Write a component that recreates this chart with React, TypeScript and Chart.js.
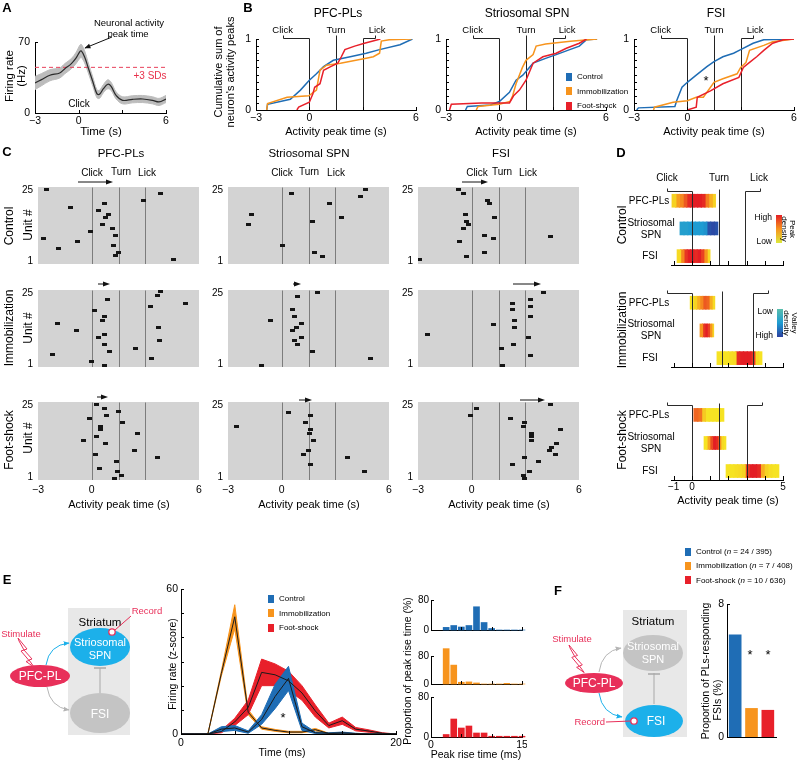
import React, { useEffect, useMemo, useRef } from 'react';
import { Chart, registerables } from 'chart.js';

Chart.register(...registerables);
const FONT = 'Arial, "Liberation Sans", Helvetica, sans-serif';
Chart.defaults.font.family = FONT;
Chart.defaults.color = '#000';

const BLUE = '#1f6db5';
const ORANGE = '#f7941d';
const RED = '#e8202a';
const PINK = '#e8305a';
const CYAN = '#1cb0ea';
const CGRAY = '#c6c6c6';

// ---------------- Panel A ----------------
const A_TIME = [-3, -2.55, -1.98, -1.3, -0.95, -0.5, -0.16, 0.07, 0.18, 0.41, 0.64, 0.98, 1.25, 1.43, 1.7, 2.0, 2.23, 2.57, 3.02, 3.7, 4.4, 5.07, 5.52, 6];
const A_MEAN = [29.6, 32.9, 37.2, 39.5, 43.7, 48.7, 54.6, 60.2, 61.2, 55.3, 45.4, 30.6, 19.1, 18.4, 24, 28.3, 26.3, 17.4, 12.5, 13.5, 13.8, 12.5, 10.9, 13.8];
const A_SEM = [6.5, 6, 5.5, 5, 5, 5, 5.5, 6.5, 6.5, 6, 5, 4.5, 4, 4, 4, 4.5, 4, 3.5, 3.5, 3.5, 3.5, 3.5, 3.5, 3.5];
const A_THRESHOLD = 45;

// ---------------- Panel B (cumulative sums) ----------------
const B1_CTRL = [[-2.4, 0], [-2.35, 0.08], [-1.07, 0.15], [-0.5, 0.28], [0, 0.42], [0.4, 0.51], [0.8, 0.61], [1.35, 0.7], [2.3, 0.75], [3.2, 0.8], [3.95, 0.85], [5.1, 0.92], [5.8, 1]];
const B1_IMM = [[-2.4, 0], [-2.35, 0.09], [-1.25, 0.18], [-0.03, 0.2], [0.4, 0.28], [0.6, 0.56], [0.97, 0.63], [1.75, 0.66], [3.2, 0.73], [3.6, 0.75], [3.95, 0.8], [4.05, 0.97], [4.5, 0.99], [5.75, 1]];
const B1_FS = [[-0.7, 0], [-0.6, 0.04], [0, 0.11], [0.2, 0.23], [0.3, 0.32], [0.6, 0.37], [0.8, 0.56], [1.2, 0.61], [1.6, 0.66], [1.8, 0.75], [2.0, 0.85], [2.55, 0.9], [3.1, 0.94], [4.0, 1]];
const B2_CTRL = [[-1.9, 0], [-1.8, 0.05], [-0.5, 0.07], [0, 0.12], [0.57, 0.25], [0.94, 0.42], [1.32, 0.49], [1.9, 0.66], [2.64, 0.73], [3.2, 0.78], [3.96, 0.85], [4.5, 0.9], [4.9, 0.99], [5.5, 1]];
const B2_IMM = [[-1.3, 0], [-1.2, 0.05], [0, 0.08], [0.6, 0.12], [0.75, 0.2], [0.94, 0.37], [1.3, 0.6], [1.5, 0.7], [1.9, 0.78], [2.07, 0.9], [2.6, 0.93], [4.0, 0.97], [5.5, 1]];
const B2_FS = [[-2.8, 0], [-2.7, 0.08], [-1, 0.1], [0.57, 0.1], [0.8, 0.2], [1.13, 0.28], [1.5, 0.42], [1.9, 0.66], [2.45, 0.75], [3.2, 0.8], [3.77, 0.87], [4.5, 0.94], [4.9, 1]];
const B3_CTRL = [[-2.85, 0], [-2.75, 0.03], [-0.7, 0.05], [-0.6, 0.13], [-0.3, 0.32], [0, 0.39], [0.5, 0.49], [1.1, 0.61], [1.5, 0.68], [2.0, 0.75], [2.6, 0.8], [3.0, 0.85], [3.7, 0.94], [4.3, 0.99], [6, 1]];
const B3_IMM = [[-1.9, 0], [-1.85, 0.04], [-0.8, 0.11], [0, 0.13], [0.5, 0.18], [0.9, 0.18], [1.5, 0.39], [2.0, 0.44], [2.8, 0.51], [3.0, 0.6], [3.3, 0.67], [3.5, 0.84], [4.3, 0.91], [4.8, 0.96], [6, 1]];
const B3_FS = [[0, 0], [0.5, 0.04], [0.56, 0.18], [1.3, 0.27], [2.0, 0.37], [2.9, 0.46], [3.15, 0.6], [3.5, 0.67], [3.9, 0.75], [4.3, 0.84], [4.8, 0.94], [5.4, 0.99], [6, 1]];
const B_YTICKS = [0, 0.1, 0.2, 0.3, 0.4, 0.5, 0.6, 0.7, 0.8, 0.9, 1];

// ---------------- Panel C (peak times x unit) ----------------
const C1_CTRL = [[-2.5, 25.1], [3.87, 23.8], [2.89, 21.45], [0.72, 20.4], [-1.18, 19.2], [0.39, 18], [0.93, 16.8], [0.76, 15.6], [0.59, 13.2], [1.17, 12.1], [-0.09, 11], [1.35, 9.75], [-2.68, 8.7], [-0.81, 7.5], [1.24, 6.3], [-1.85, 5.1], [1.5, 3.9], [1.35, 2.8], [4.57, 1.6]];
const C1_IMM = [[3.83, 25.35], [3.7, 24.05], [0.91, 22.85], [5.26, 21.55], [3.3, 20.4], [0.17, 19.2], [0.69, 16.9], [0.63, 15.7], [-1.93, 14.6], [3.74, 13.4], [-0.85, 12.35], [0.7, 11.05], [0.37, 10], [3.81, 8.8], [0.69, 7.6], [2.44, 6.4], [1.02, 5.2], [-2.2, 4.1], [3.33, 2.9], [-0.02, 1.7], [0.69, 0.55]];
const C1_FS = [[0.26, 25.25], [0.69, 23.85], [1.5, 22.75], [0.81, 21.45], [-0.11, 20.4], [1.72, 19.2], [0.52, 18], [0.48, 16.8], [2.57, 15.6], [0.26, 14.4], [-0.44, 13.3], [0.78, 12.1], [2.42, 9.75], [0.2, 8.65], [3.69, 7.45], [1.37, 6.25], [0.46, 4], [1.46, 2.7], [1.67, 1.6], [1.28, 0.4]];
const C2_CTRL = [[4.67, 25.1], [0.54, 23.8], [4.43, 22.65], [2.69, 20.4], [-1.67, 16.8], [3.37, 15.6], [1.7, 14.4], [-1.87, 13.2], [0.04, 6.3], [1.85, 3.9], [2.3, 2.7]];
const C2_IMM = [[1.98, 25.1], [0.87, 23.95], [0.59, 19.3], [0.7, 17], [-0.65, 15.7], [1.11, 14.6], [0.83, 13.4], [0.63, 12.35], [1.13, 9.85], [0.69, 8.8], [0.87, 7.6], [1.73, 5.2], [4.97, 2.85], [-1.13, 0.5]];
const C2_FS = [[0.37, 22.5], [1.63, 21.35], [1.34, 19.05], [-2.53, 18], [1.63, 16.7], [1.57, 15.5], [1.8, 13.25], [1.51, 9.75], [1.23, 8.65], [3.68, 7.45], [1.63, 5.1], [4.65, 2.8]];
const C3_CTRL = [[-0.74, 25.1], [-0.43, 23.8], [0.87, 21.45], [1.02, 20.4], [-0.37, 16.8], [1.29, 15.6], [-0.27, 14.4], [-0.18, 13.2], [-0.43, 12.1], [0.7, 9.75], [4.4, 9.2], [1.2, 8.7], [-0.67, 7.5], [0.7, 3.9], [-0.3, 2.7], [-2.93, 1.6]];
const C3_IMM = [[4.04, 25.1], [3.3, 22.65], [2.3, 21.55], [3.3, 20.5], [2.3, 19.3], [3.3, 16.9], [2.4, 15.7], [1.2, 14.5], [2.4, 13.4], [-2.45, 11.05], [3.2, 9.85], [2.35, 7.6], [1.65, 6.4], [3.3, 4], [1.75, 0.45]];
const C3_FS = [[4.41, 25.1], [0.29, 23.8], [-0.06, 21.45], [2.18, 20.4], [2.97, 19.2], [2.89, 18], [4.98, 16.8], [3.37, 15.6], [3.37, 14.6], [3.37, 13.3], [4.75, 12.1], [4.46, 10.8], [4.37, 9.75], [4.69, 8.65], [2.97, 7.45], [3.72, 6.25], [2.28, 5.1], [3.26, 2.7], [2.91, 1.5], [2.97, 0.4]];
const EVENT_TIMES = [0, 1.5, 3.0];

// ---------------- Panel D (density bars) ----------------
const D_CTRL_PFC_SPAN = [-1.1, 1.3];
const D_CTRL_PFC = [0.15, 0.45, 0.55, 0.75, 0.95, 1, 1, 1, 0.95, 0.6, 0.35, 0.15];
const D_CTRL_SPN_SPAN = [-0.66, 1.43];
const D_CTRL_SPN = [0.45, 0.45, 0.5, 0.5, 0.5, 0.5, 0.55, 0.9, 0.95, 0.9];
const D_CTRL_FSI_SPAN = [-0.82, 1.0];
const D_CTRL_FSI = [0.1, 0.55, 0.9, 1, 1, 0.95, 1, 0.85, 0.5, 0.1];
const D_IMM_PFC_SPAN = [-0.1, 1.26];
const D_IMM_PFC = [0.05, 0.15, 0.35, 0.55, 0.75, 0.7, 0.35, 0.1];
const D_IMM_SPN_SPAN = [0.44, 1.2];
const D_IMM_SPN = [0.5, 0.9, 1, 0.85, 0.5, 0.15];
const D_IMM_FSI_SPAN = [1.37, 3.85];
const D_IMM_FSI = [0.05, 0.05, 0.05, 0.08, 0.1, 0.95, 1, 1, 1, 0.9, 0.1, 0.05];
const D_FS_PFC_SPAN = [0.1, 1.76];
const D_FS_PFC = [0.7, 0.65, 0.2, 0.05, 0.05, 0.05, 0.05, 0.05];
const D_FS_SPN_SPAN = [0.66, 1.87];
const D_FS_SPN = [0.05, 0.4, 0.8, 1, 0.95, 0.5, 0.1, 0.05];
const D_FS_FSI_SPAN = [1.87, 4.78];
const D_FS_FSI = [0.05, 0.05, 0.08, 0.1, 0.15, 0.85, 1, 1, 0.95, 0.35, 0.15, 0.08, 0.05, 0.05];
const D_CTRL_EVENTS = [0, 1.48, 2.91];
const D_IMM_EVENTS = [0, 1.67, 3.37];
const D_FS_EVENTS = [0, 1.48, 3.0];
const D_LICK_BRACKET_END = [3.74, 4.2, 3.86];

// ---------------- Panel E ----------------
const E_TIME = [0, 1.25, 2.5, 3.75, 5, 6.25, 7.5, 8.75, 10, 11.25, 12.5, 13.75, 15, 16.25, 17.5, 18.75, 20];
const E_CTRL_MEAN = [0, 0, 0, 2, 2.5, 0.8, 6, 15.5, 23, 3, 0.5, 0.3, 0.5, 0.2, 0, 0, 0];
const E_CTRL_SEM = [0, 0, 0, 1, 1, 0.5, 2, 5, 5, 1.5, 0.3, 0.2, 0.3, 0.1, 0, 0, 0];
const E_IMM_MEAN = [0, 0, 0, 25, 48.5, 9, 2.5, 1.5, 0.8, 0.8, 1.8, 0.2, 0, 0, 0, 0, 0];
const E_IMM_SEM = [0, 0, 0, 1, 5, 1, 0.5, 0.4, 0.3, 0.3, 0.5, 0.1, 0, 0, 0, 0, 0];
const E_FS_MEAN = [0, 0, 0, 1, 5, 11, 25.5, 24.5, 22, 17, 9.5, 3.5, 5.5, 2, 1.2, 0.3, 0];
const E_FS_SEM = [0, 0, 0, 0.5, 1.5, 3, 5.5, 4.5, 4, 3, 2.5, 1, 1.5, 0.7, 0.5, 0.2, 0];

const H_BINS = [2.5, 3.75, 5, 6.25, 7.5, 8.75, 10, 11.25, 12.5, 13.75, 15];
const H_CTRL = [7, 12, 8, 12, 62, 20, 4, 0, 0, 0, 0];
const H_IMM = [101, 54, 5, 6, 3, 0, 0, 0, 2, 0, 0];
const H_FS = [5, 36, 18, 22, 8, 8, 1.5, 1.5, 1.5, 1.5, 1.5];

// ---------------- Panel F ----------------
const F_GROUPS = ['Control', 'Immobilization', 'Foot-shock'];
const F_VALUES = [6.15, 1.72, 1.61];

// ================= helpers =================
const PEAK_STOPS = [[0, 246, 236, 36], [0.5, 247, 148, 30], [1, 227, 30, 36]];
const VALLEY_STOPS = [[0, 90, 190, 172], [0.5, 30, 156, 210], [1, 44, 64, 160]];
function cmap(stops: number[][], v: number) {
  for (let i = 1; i < stops.length; i++) {
    if (v <= stops[i][0]) {
      const a = stops[i - 1], b = stops[i];
      const f = (v - a[0]) / (b[0] - a[0]);
      const c = [1, 2, 3].map((k) => Math.round(a[k] + (b[k] - a[k]) * f));
      return `rgb(${c[0]},${c[1]},${c[2]})`;
    }
  }
  const l = stops[stops.length - 1];
  return `rgb(${l[1]},${l[2]},${l[3]})`;
}

function fit(size: number, horiz: boolean) {
  return (s: any) => {
    if (horiz) s.height = size; else s.width = size;
    s.paddingLeft = 0; s.paddingRight = 0; s.paddingTop = 0; s.paddingBottom = 0;
  };
}

function axis(o: any) {
  const labels = o.labels || null;
  return {
    type: 'linear', min: o.min, max: o.max, offset: false,
    afterBuildTicks: (s: any) => { s.ticks = (o.ticks || []).map((v: number) => ({ value: v })); },
    afterFit: fit(o.size, o.horiz),
    grid: { display: false, drawTicks: false, offset: false },
    border: { display: o.border !== false, color: '#000', width: 1 },
    ticks: {
      display: !!labels, autoSkip: false, maxRotation: 0, minRotation: 0, padding: o.pad ?? 3,
      font: { size: o.font ?? 10, family: FONT }, color: '#000',
      callback: (v: number) => (labels && labels[String(v)] !== undefined ? labels[String(v)] : ''),
    },
  };
}

function evPlugin(lines: any[], color: string, before: boolean, hook = 3) {
  const draw = (chart: any) => {
    const { ctx, chartArea: a, scales } = chart;
    const xs = scales.x;
    ctx.save();
    ctx.strokeStyle = color; ctx.lineWidth = 1;
    ctx.beginPath();
    for (const ln of lines) {
      const px = Math.round(xs.getPixelForValue(ln.x)) + 0.5;
      const top = Math.round(a.top + (ln.dy || 0)) + 0.5;
      ctx.moveTo(px, top); ctx.lineTo(px, a.bottom);
      if (ln.to !== undefined) {
        const p2 = Math.round(xs.getPixelForValue(ln.to)) + 0.5;
        ctx.moveTo(px, top); ctx.lineTo(p2, top); ctx.lineTo(p2, top - hook);
      }
    }
    ctx.stroke(); ctx.restore();
  };
  return before ? { id: 'ev', beforeDatasetsDraw: draw } : { id: 'ev', afterDatasetsDraw: draw };
}

function tickPlugin(xv: number[], yv: number[], len = 3) {
  return {
    id: 'tk',
    afterDatasetsDraw(chart: any) {
      const { ctx, chartArea: a, scales } = chart;
      ctx.save(); ctx.strokeStyle = '#000'; ctx.lineWidth = 1; ctx.beginPath();
      for (const v of xv) { const p = Math.round(scales.x.getPixelForValue(v)) + 0.5; ctx.moveTo(p, a.bottom); ctx.lineTo(p, a.bottom - len); }
      for (const v of yv) { const p = Math.round(scales.y.getPixelForValue(v)) + 0.5; ctx.moveTo(a.left, p); ctx.lineTo(a.left + len, p); }
      ctx.stroke(); ctx.restore();
    },
  };
}

function bgPlugin(color: string) {
  return {
    id: 'bg',
    beforeDraw(chart: any) {
      const { ctx, chartArea: a } = chart;
      ctx.save(); ctx.fillStyle = color; ctx.fillRect(a.left, a.top, a.right - a.left, a.bottom - a.top); ctx.restore();
    },
  };
}

let MARK: HTMLCanvasElement | null = null;
function marker() {
  if (!MARK) {
    const c = document.createElement('canvas');
    c.width = 5; c.height = 3;
    const g = c.getContext('2d')!;
    g.fillStyle = '#151515'; g.fillRect(0, 0, 5, 3);
    MARK = c;
  }
  return MARK;
}

const pts = (arr: number[][]) => arr.map(([x, y]) => ({ x, y }));
const band = (t: number[], m: number[], s: number[], sign: number) => t.map((x, i) => ({ x, y: m[i] + sign * s[i] }));

type Box = { x: number; y: number; w: number; h: number };
type Area = { l: number; t: number; r: number; b: number };
type Spec = { key: string; box: Box; area: Area; make: (yW: number, xH: number) => any };

function ChartCanvas({ spec }: { spec: Spec }) {
  const ref = useRef<HTMLCanvasElement | null>(null);
  useEffect(() => {
    if (!ref.current) return;
    const { box, area } = spec;
    const yW = area.l - box.x;
    const xH = box.y + box.h - area.b;
    const cfg = spec.make(yW, xH);
    cfg.options = {
      ...(cfg.options || {}),
      responsive: false, maintainAspectRatio: false, animation: false, devicePixelRatio: 1, events: [],
      layout: { padding: { left: 0, bottom: 0, top: area.t - box.y, right: box.x + box.w - area.r } },
      plugins: { legend: { display: false }, tooltip: { enabled: false }, title: { display: false } },
    };
    const chart = new Chart(ref.current, cfg);
    return () => chart.destroy();
  }, [spec]);
  return (
    <canvas ref={ref} width={spec.box.w} height={spec.box.h}
      style={{ position: 'absolute', left: spec.box.x, top: spec.box.y, width: spec.box.w, height: spec.box.h }} />
  );
}

// ================= chart specs =================
const B_AREAS = [{ l: 256, r: 416 }, { l: 446, r: 606 }, { l: 634, r: 794 }];
const C_COLS = [38, 228, 418];
const C_ROWS = [185, 288, 400];
const D_ROWS = [{ t: 188, b: 265 }, { t: 290, b: 367 }, { t: 402, b: 480 }];

function buildSpecs(): Spec[] {
  const specs: Spec[] = [];

  // ---- A
  specs.push({
    key: 'A', box: { x: 0, y: 30, w: 180, h: 100 }, area: { l: 35, t: 42, r: 166, b: 113 },
    make: (yW, xH) => ({
      type: 'line',
      data: {
        datasets: [
          { data: A_TIME.map((x, i) => ({ x, y: A_MEAN[i] })), borderColor: '#2b2b2b', borderWidth: 1.2, pointRadius: 0, tension: 0.35, fill: false },
          { data: [{ x: -3, y: A_THRESHOLD }, { x: 6, y: A_THRESHOLD }], borderColor: '#e8405a', borderWidth: 1, borderDash: [4, 3], pointRadius: 0, fill: false },
          { data: band(A_TIME, A_MEAN, A_SEM, 1), borderColor: '#bcbcbc', backgroundColor: '#bcbcbc', borderWidth: 1, pointRadius: 0, tension: 0.35, fill: '+1' },
          { data: band(A_TIME, A_MEAN, A_SEM, -1), borderColor: '#bcbcbc', borderWidth: 1, pointRadius: 0, tension: 0.35, fill: false },
        ],
      },
      options: {
        scales: {
          x: axis({ horiz: true, size: xH, min: -3, max: 6, ticks: [-3, 0, 3, 6], labels: { '-3': '−3', '0': '0', '6': '6' }, font: 10.5, pad: 2 }),
          y: axis({ horiz: false, size: yW, min: 0, max: 70, ticks: [0, 70], labels: { '0': '0', '70': '70' }, font: 10.5, pad: 5 }),
        },
      },
      plugins: [tickPlugin([-3, 0, 3, 6], [0, 70])],
    }),
  });

  // ---- B
  const bSeries = [
    [[B1_FS, RED], [B1_IMM, ORANGE], [B1_CTRL, BLUE]],
    [[B2_FS, RED], [B2_IMM, ORANGE], [B2_CTRL, BLUE]],
    [[B3_FS, RED], [B3_IMM, ORANGE], [B3_CTRL, BLUE]],
  ];
  B_AREAS.forEach((ar, i) => {
    const area = { l: ar.l, t: 39, r: ar.r, b: 110 };
    specs.push({
      key: 'B' + i, box: { x: ar.l - 30, y: 25, w: ar.r - ar.l + 36, h: 100 }, area,
      make: (yW, xH) => ({
        type: 'line',
        data: {
          datasets: bSeries[i].map(([d, c]: any) => ({ data: pts(d), borderColor: c, borderWidth: 1.5, pointRadius: 0, fill: false, tension: 0 })),
        },
        options: {
          scales: {
            x: axis({ horiz: true, size: xH, min: -3, max: 6, ticks: [-3, 0, 3, 6], labels: { '-3': '−3', '0': '0', '6': '6' }, font: 10.5, pad: 2 }),
            y: axis({ horiz: false, size: yW, min: 0, max: 1, ticks: B_YTICKS, labels: { '0': '0', '1': '1' }, font: 10.5, pad: 5 }),
          },
        },
        plugins: [
          evPlugin([{ x: 0, dy: -1, to: -1.5 }, { x: 1.5, dy: -4 }, { x: 3.0, dy: -1, to: 3.7 }], '#222', true, 3),
          tickPlugin([-3, 0, 3, 6], B_YTICKS),
        ],
      }),
    });
  });

  // ---- C
  const cData = [[C1_CTRL, C1_IMM, C1_FS], [C2_CTRL, C2_IMM, C2_FS], [C3_CTRL, C3_IMM, C3_FS]];
  C_COLS.forEach((l, ci) => {
    C_ROWS.forEach((t, ri) => {
      const area = { l, t, r: l + 162, b: t + 80 };
      specs.push({
        key: `C${ci}${ri}`, box: { x: l - 24, y: t - 2, w: 162 + 27, h: 82 + (ri === 2 ? 18 : 3) }, area,
        make: (yW, xH) => ({
          type: 'scatter',
          data: { datasets: [{ data: pts(cData[ci][ri]), pointStyle: marker(), pointRadius: 2, backgroundColor: '#111', borderWidth: 0 }] },
          options: {
            scales: {
              x: axis({ horiz: true, size: xH, min: -3, max: 6, ticks: [-3, 0, 6], labels: ri === 2 ? { '-3': '−3', '0': '0', '6': '6' } : null, border: false, font: 10.5, pad: 4 }),
              y: axis({ horiz: false, size: yW, min: 0, max: 26, ticks: [1, 25], labels: { '1': '1', '25': '25' }, border: false, font: 10, pad: 5 }),
            },
          },
          plugins: [bgPlugin('#d3d3d3'), evPlugin(EVENT_TIMES.map((x) => ({ x })), '#7c7c7c', true)],
        }),
      });
    });
  });

  // ---- D
  const dRows = [
    [[D_CTRL_PFC_SPAN, D_CTRL_PFC, PEAK_STOPS], [D_CTRL_SPN_SPAN, D_CTRL_SPN, VALLEY_STOPS], [D_CTRL_FSI_SPAN, D_CTRL_FSI, PEAK_STOPS]],
    [[D_IMM_PFC_SPAN, D_IMM_PFC, PEAK_STOPS], [D_IMM_SPN_SPAN, D_IMM_SPN, PEAK_STOPS], [D_IMM_FSI_SPAN, D_IMM_FSI, PEAK_STOPS]],
    [[D_FS_PFC_SPAN, D_FS_PFC, PEAK_STOPS], [D_FS_SPN_SPAN, D_FS_SPN, PEAK_STOPS], [D_FS_FSI_SPAN, D_FS_FSI, PEAK_STOPS]],
  ];
  const dEvents = [D_CTRL_EVENTS, D_IMM_EVENTS, D_FS_EVENTS];
  D_ROWS.forEach((rw, k) => {
    const area = { l: 671, t: rw.t, r: 783, b: rw.b };
    const rows = dRows[k].map((r: any, idx: number) => ({ y: 3 - idx, span: r[0], dens: r[1], stops: r[2] }));
    const maxBins = Math.max(...rows.map((r) => r.dens.length));
    const datasets: any[] = [];
    for (let j = 0; j < maxBins; j++) {
      const rr = rows.filter((r) => j < r.dens.length);
      datasets.push({
        data: rr.map((r) => {
          const n = r.dens.length, w = (r.span[1] - r.span[0]) / n;
          const a = r.span[0] + j * w;
          const b = r.span[0] + (j + 1) * w + (j < n - 1 ? 0.03 : 0);
          return { x: [a, b], y: r.y };
        }),
        backgroundColor: rr.map((r) => cmap(r.stops, r.dens[j])),
        borderWidth: 0, barThickness: 13, grouped: false, borderSkipped: false,
      });
    }
    const ev = dEvents[k];
    specs.push({
      key: 'D' + k, box: { x: 660, y: rw.t - 18, w: 130, h: rw.b - rw.t + 18 + (k === 2 ? 14 : 3) }, area,
      make: (yW, xH) => ({
        type: 'bar',
        data: { datasets },
        options: {
          indexAxis: 'y',
          scales: {
            x: axis({ horiz: true, size: xH, min: -1.15, max: 5, ticks: [-1, 0, 1, 2, 3, 4, 5], labels: k === 2 ? { '-1': '−1', '0': '0', '5': '5' } : null, font: 10, pad: 1 }),
            y: axis({ horiz: false, size: yW, min: 0.68, max: 3.46, ticks: [], border: false }),
          },
        },
        plugins: [
          evPlugin([{ x: ev[0], dy: 3, to: -1.37 }, { x: ev[1], dy: 1 }, { x: ev[2], dy: 3, to: D_LICK_BRACKET_END[k] }], '#2a2a2a', false, 3),
          tickPlugin([-1, 0, 1, 2, 3, 4, 5], [], 4),
        ],
      }),
    });
  });

  // ---- E middle
  specs.push({
    key: 'Emid', box: { x: 150, y: 580, w: 252, h: 168 }, area: { l: 181, t: 589, r: 396, b: 734 },
    make: (yW, xH) => {
      const mean = (m: number[]) => ({ data: E_TIME.map((x, i) => ({ x, y: m[i] })), borderColor: '#1a1a1a', borderWidth: 1, pointRadius: 0, fill: false, tension: 0 });
      const up = (m: number[], s: number[], c: string) => ({ data: band(E_TIME, m, s, 1), borderColor: c, backgroundColor: c, borderWidth: 1, pointRadius: 0, fill: '+1', tension: 0 });
      const lo = (m: number[], s: number[], c: string) => ({ data: band(E_TIME, m, s, -1), borderColor: c, borderWidth: 1, pointRadius: 0, fill: false, tension: 0 });
      return {
        type: 'line',
        data: {
          datasets: [
            mean(E_CTRL_MEAN), mean(E_FS_MEAN), mean(E_IMM_MEAN),
            up(E_CTRL_MEAN, E_CTRL_SEM, BLUE), lo(E_CTRL_MEAN, E_CTRL_SEM, BLUE),
            up(E_FS_MEAN, E_FS_SEM, RED), lo(E_FS_MEAN, E_FS_SEM, RED),
            up(E_IMM_MEAN, E_IMM_SEM, ORANGE), lo(E_IMM_MEAN, E_IMM_SEM, ORANGE),
          ],
        },
        options: {
          scales: {
            x: axis({ horiz: true, size: xH, min: 0, max: 20, ticks: [0, 5, 10, 15, 20], labels: { '0': '0', '20': '20' }, font: 10.5, pad: 3 }),
            y: axis({ horiz: false, size: yW, min: 0, max: 60, ticks: [0, 10, 20, 30, 40, 50, 60], labels: { '0': '0', '60': '60' }, font: 10.5, pad: 3 }),
          },
        },
        plugins: [tickPlugin([0, 5, 10, 15, 20], [0, 10, 20, 30, 40, 50, 60])],
      };
    },
  });

  // ---- E histograms
  const hists = [
    { vals: H_CTRL, col: BLUE, t: 600, b: 630, y: 592 },
    { vals: H_IMM, col: ORANGE, t: 656, b: 684, y: 642 },
    { vals: H_FS, col: RED, t: 697, b: 737, y: 690 },
  ];
  hists.forEach((h, k) => {
    specs.push({
      key: 'H' + k, box: { x: 405, y: h.y, w: 122, h: h.b - h.y + (k === 2 ? 15 : 3) }, area: { l: 431, t: h.t, r: 522, b: h.b },
      make: (yW, xH) => ({
        type: 'bar',
        data: { datasets: [{ data: H_BINS.map((x, i) => ({ x, y: h.vals[i] })), backgroundColor: h.col, barThickness: 6, borderWidth: 0, clip: false }] },
        options: {
          scales: {
            x: axis({ horiz: true, size: xH, min: 0, max: 15, ticks: [0, 5, 10, 15], labels: k === 2 ? { '0': '0', '15': '15' } : null, font: 10.5, pad: 2 }),
            y: axis({ horiz: false, size: yW, min: 0, max: 80, ticks: [0, 80], labels: { '0': '0', '80': '80' }, font: 10, pad: 2 }),
          },
        },
        plugins: [tickPlugin([0, 5, 10, 15], [0, 80])],
      }),
    });
  });

  // ---- F bars
  specs.push({
    key: 'F', box: { x: 705, y: 596, w: 80, h: 144 }, area: { l: 727, t: 604, r: 776, b: 737 },
    make: (yW, xH) => ({
      type: 'bar',
      data: { labels: F_GROUPS, datasets: [{ data: F_VALUES, backgroundColor: [BLUE, ORANGE, RED], barThickness: 12, borderWidth: 0 }] },
      options: {
        scales: {
          x: { type: 'category', offset: true, afterFit: fit(xH, true), grid: { display: false, drawTicks: false }, border: { display: true, color: '#000' }, ticks: { display: false } },
          y: axis({ horiz: false, size: yW, min: 0, max: 8, ticks: [0, 8], labels: { '0': '0', '8': '8' }, font: 10.5, pad: 3 }),
        },
      },
      plugins: [tickPlugin([], [0, 8])],
    }),
  });

  return specs;
}

// ================= text overlay =================
type TOpt = { s?: number; c?: string; b?: boolean; r?: number; a?: 'l' | 'c' | 'r'; lh?: number };
function Txt({ x, y, o, children }: { x: number; y: number; o?: TOpt; children: React.ReactNode }) {
  const op = o || {};
  const tx = op.a === 'l' ? '0' : op.a === 'r' ? '-100%' : '-50%';
  return (
    <div style={{
      position: 'absolute', left: x, top: y, transform: `translate(${tx},-50%) rotate(${op.r || 0}deg)`,
      fontSize: op.s || 11, color: op.c || '#000', fontWeight: op.b ? 'bold' : 'normal', whiteSpace: 'nowrap',
      lineHeight: op.lh ? `${op.lh}px` : 1.15, textAlign: 'center', fontFamily: FONT,
    }}>{children}</div>
  );
}

const bx = (i: number, v: number) => B_AREAS[i].l + ((v + 3) / 9) * (B_AREAS[i].r - B_AREAS[i].l);

function Legend({ x, y, gap, size, items, fs }: { x: number; y: number; gap: number; size: number; items: [string, React.ReactNode][]; fs: number }) {
  return (
    <>
      {items.map(([c, t], i) => (
        <React.Fragment key={i}>
          <div style={{ position: 'absolute', left: x, top: y + i * gap - size / 2 - 1, width: size - 1, height: size + 1, background: c }} />
          <Txt x={x + size + 4} y={y + i * gap} o={{ s: fs, a: 'l' }}>{t}</Txt>
        </React.Fragment>
      ))}
    </>
  );
}

function Bolt({ x, y, s }: { x: number; y: number; s: number }) {
  const p = [[0, 0], [9, 11], [6, 12], [14, 21], [11, 22], [16, 29], [8, 23.5], [11, 22.5], [3, 13], [6, 12], [1, 3]];
  return <polygon points={p.map(([a, b]) => `${x + a * s},${y + b * s}`).join(' ')} fill="#fff" stroke={PINK} strokeWidth={1} />;
}

function Arrow({ x1, x2, y }: { x1: number; x2: number; y: number }) {
  return (
    <g>
      <line x1={x1} y1={y} x2={x2 - 5} y2={y} stroke="#111" strokeWidth={1} />
      <polygon points={`${x2 - 7},${y - 2.5} ${x2},${y} ${x2 - 7},${y + 2.5}`} fill="#111" />
    </g>
  );
}

export default function App() {
  const specs = useMemo(buildSpecs, []);
  const dLabelRows = [[201, 229, 256], [303, 330, 358], [415, 443, 471]];
  return (
    <div style={{ position: 'absolute', left: 0, top: 0, width: 800, height: 760, background: '#fff', overflow: 'hidden', fontFamily: FONT }}>
      {specs.map((s) => <ChartCanvas key={s.key} spec={s} />)}

      <svg width={800} height={760} style={{ position: 'absolute', left: 0, top: 0 }} fontFamily={FONT}>
        <defs>
          <marker id="ak" viewBox="0 0 10 10" refX="9" refY="5" markerWidth="7" markerHeight="6" orient="auto"><path d="M0,1 L10,5 L0,9 z" fill="#111" /></marker>
          <marker id="ac" viewBox="0 0 10 10" refX="9" refY="5" markerWidth="6" markerHeight="6" orient="auto"><path d="M0,1 L10,5 L0,9 z" fill={CYAN} /></marker>
          <marker id="ag" viewBox="0 0 10 10" refX="9" refY="5" markerWidth="6" markerHeight="6" orient="auto"><path d="M0,1 L10,5 L0,9 z" fill="#b5b5b5" /></marker>
          <linearGradient id="gPeak" x1="0" y1="0" x2="0" y2="1">
            <stop offset="0" stopColor="rgb(227,30,36)" /><stop offset="0.5" stopColor="rgb(247,148,30)" /><stop offset="1" stopColor="rgb(220,232,60)" />
          </linearGradient>
          <linearGradient id="gValley" x1="0" y1="0" x2="0" y2="1">
            <stop offset="0" stopColor="rgb(90,190,172)" /><stop offset="0.5" stopColor="rgb(30,156,210)" /><stop offset="1" stopColor="rgb(44,64,160)" />
          </linearGradient>
        </defs>

        {/* A annotation arrow */}
        <line x1={112} y1={37} x2={85} y2={48} stroke="#111" strokeWidth={1} markerEnd="url(#ak)" />

        {/* C arrows */}
        <Arrow x1={78} x2={113} y={182} />
        <Arrow x1={98} x2={110} y={284} />
        <Arrow x1={97} x2={108} y={397} />
        <Arrow x1={293} x2={301} y={284} />
        <Arrow x1={299} x2={312} y={400} />
        <Arrow x1={462} x2={488} y={182} />
        <Arrow x1={513} x2={541} y={284} />
        <Arrow x1={520} x2={545} y={400} />

        {/* D colour bars */}
        <rect x={776} y={215} width={6} height={28} fill="url(#gPeak)" />
        <rect x={777} y={309} width={6} height={28} fill="url(#gValley)" />

        {/* E diagram */}
        <rect x={68} y={608} width={62} height={127} fill="#e8e8e8" />
        <text x={100} y={622} fontSize={11.5} textAnchor="middle" dominantBaseline="central">Striatum</text>
        <ellipse cx={100} cy={647} rx={30} ry={19} fill={CYAN} />
        <text x={100} y={642} fontSize={11} fill="#fff" textAnchor="middle" dominantBaseline="central">Striosomal</text>
        <text x={100} y={655} fontSize={11} fill="#fff" textAnchor="middle" dominantBaseline="central">SPN</text>
        <line x1={100} y1={668} x2={100} y2={693} stroke="#a8a8a8" strokeWidth={1} />
        <line x1={94} y1={668} x2={106} y2={668} stroke="#a8a8a8" strokeWidth={1.5} />
        <ellipse cx={100} cy={713} rx={30} ry={20} fill="#c4c4c4" />
        <text x={100} y={714} fontSize={12} fill="#fff" textAnchor="middle" dominantBaseline="central">FSI</text>
        <path d="M46,665 Q49,645 69,643" fill="none" stroke={CYAN} strokeWidth={1} markerEnd="url(#ac)" />
        <path d="M47,687 Q50,707 69,710" fill="none" stroke="#b5b5b5" strokeWidth={1} markerEnd="url(#ag)" />
        <ellipse cx={40} cy={676} rx={30} ry={11} fill={PINK} />
        <text x={40} y={676} fontSize={12} fill="#fff" textAnchor="middle" dominantBaseline="central">PFC-PL</text>
        <Bolt x={18} y={638} s={1} />
        <line x1={131} y1={616} x2={115} y2={630} stroke={PINK} strokeWidth={1} />
        <circle cx={112} cy={632} r={3.2} fill="#fff" stroke={PINK} strokeWidth={1.3} />

        {/* F diagram */}
        <rect x={623} y={610} width={64} height={127} fill="#e8e8e8" />
        <text x={653} y={621} fontSize={11.5} textAnchor="middle" dominantBaseline="central">Striatum</text>
        <ellipse cx={653} cy={653} rx={30} ry={18} fill="#c4c4c4" />
        <text x={653} y={646} fontSize={11} fill="#fff" textAnchor="middle" dominantBaseline="central">Striosomal</text>
        <text x={653} y={659} fontSize={11} fill="#fff" textAnchor="middle" dominantBaseline="central">SPN</text>
        <line x1={654} y1={673} x2={654} y2={704} stroke="#a8a8a8" strokeWidth={1} />
        <line x1={648} y1={674} x2={660} y2={674} stroke="#a8a8a8" strokeWidth={1.5} />
        <ellipse cx={654} cy={721} rx={29} ry={16} fill={CYAN} />
        <text x={656} y={721} fontSize={12} fill="#fff" textAnchor="middle" dominantBaseline="central">FSI</text>
        <path d="M599,672 Q602,651 621,648" fill="none" stroke="#b5b5b5" strokeWidth={1} markerEnd="url(#ag)" />
        <path d="M599,693 Q602,714 622,717" fill="none" stroke={CYAN} strokeWidth={1} markerEnd="url(#ac)" />
        <ellipse cx={594} cy={683} rx={29} ry={10} fill={PINK} />
        <text x={594} y={683} fontSize={12} fill="#fff" textAnchor="middle" dominantBaseline="central">PFC-PL</text>
        <Bolt x={569} y={645} s={0.95} />
        <line x1={606} y1={722} x2={631} y2={721} stroke={PINK} strokeWidth={1} />
        <circle cx={634} cy={721} r={3.2} fill="#fff" stroke={PINK} strokeWidth={1.3} />
      </svg>

      {/* ---- A texts */}
      <Txt x={7} y={8} o={{ s: 13, b: true }}>A</Txt>
      <Txt x={129} y={23} o={{ s: 9.5 }}>Neuronal activity</Txt>
      <Txt x={128} y={34} o={{ s: 9.5 }}>peak time</Txt>
      <Txt x={10} y={76} o={{ s: 11.5, r: -90 }}>Firing rate</Txt>
      <Txt x={22} y={76} o={{ s: 11.5, r: -90 }}>(Hz)</Txt>
      <Txt x={150} y={76} o={{ s: 10, c: '#e8304a' }}>+3 SDs</Txt>
      <Txt x={79} y={104} o={{ s: 10 }}>Click</Txt>
      <Txt x={101} y={132} o={{ s: 11.5 }}>Time (s)</Txt>

      {/* ---- B texts */}
      <Txt x={248} y={8} o={{ s: 13, b: true }}>B</Txt>
      <Txt x={338} y={14} o={{ s: 12 }}>PFC-PLs</Txt>
      <Txt x={527} y={14} o={{ s: 12 }}>Striosomal SPN</Txt>
      <Txt x={716} y={14} o={{ s: 12 }}>FSI</Txt>
      <Txt x={218} y={72} o={{ s: 11, r: -90 }}>Cumulative sum of</Txt>
      <Txt x={230} y={72} o={{ s: 11, r: -90 }}>neuron's activity peaks</Txt>
      {[0, 1, 2].map((i) => (
        <React.Fragment key={'bl' + i}>
          <Txt x={bx(i, -1.5)} y={30} o={{ s: 9.5 }}>Click</Txt>
          <Txt x={bx(i, 1.5)} y={30} o={{ s: 9.5 }}>Turn</Txt>
          <Txt x={bx(i, 3.7) + 2} y={30} o={{ s: 9.5 }}>Lick</Txt>
          <Txt x={(B_AREAS[i].l + B_AREAS[i].r) / 2} y={131} o={{ s: 11 }}>Activity peak time (s)</Txt>
        </React.Fragment>
      ))}
      <Legend x={566} y={77} gap={14.5} size={7} fs={8} items={[[BLUE, 'Control'], [ORANGE, 'Immobilization'], [RED, 'Foot-shock']]} />
      <Txt x={706} y={81} o={{ s: 13 }}>*</Txt>

      {/* ---- C texts */}
      <Txt x={7} y={152} o={{ s: 13, b: true }}>C</Txt>
      <Txt x={121} y={154} o={{ s: 11.5 }}>PFC-PLs</Txt>
      <Txt x={309} y={154} o={{ s: 11.5 }}>Striosomal SPN</Txt>
      <Txt x={501} y={154} o={{ s: 11.5 }}>FSI</Txt>
      {[[92, 121, 147], [282, 309, 336], [477, 502, 528]].map((xs, i) => (
        <React.Fragment key={'cl' + i}>
          <Txt x={xs[0]} y={173} o={{ s: 10 }}>Click</Txt>
          <Txt x={xs[1]} y={172} o={{ s: 10 }}>Turn</Txt>
          <Txt x={xs[2]} y={173} o={{ s: 10 }}>Lick</Txt>
          <Txt x={C_COLS[i] + 81} y={504} o={{ s: 11 }}>Activity peak time (s)</Txt>
        </React.Fragment>
      ))}
      <Txt x={10} y={226} o={{ s: 12, r: -90 }}>Control</Txt>
      <Txt x={10} y={328} o={{ s: 12, r: -90 }}>Immobilization</Txt>
      <Txt x={10} y={440} o={{ s: 12, r: -90 }}>Foot-shock</Txt>
      <Txt x={29} y={225} o={{ s: 12, r: -90 }}>Unit #</Txt>
      <Txt x={29} y={328} o={{ s: 12, r: -90 }}>Unit #</Txt>
      <Txt x={29} y={438} o={{ s: 12, r: -90 }}>Unit #</Txt>

      {/* ---- D texts */}
      <Txt x={621} y={153} o={{ s: 13, b: true }}>D</Txt>
      <Txt x={667} y={178} o={{ s: 10 }}>Click</Txt>
      <Txt x={719} y={178} o={{ s: 10 }}>Turn</Txt>
      <Txt x={759} y={178} o={{ s: 10 }}>Lick</Txt>
      <Txt x={623} y={225} o={{ s: 12, r: -90 }}>Control</Txt>
      <Txt x={623} y={330} o={{ s: 12, r: -90 }}>Immobilization</Txt>
      <Txt x={623} y={440} o={{ s: 12, r: -90 }}>Foot-shock</Txt>
      {dLabelRows.map((ys, i) => (
        <React.Fragment key={'dl' + i}>
          <Txt x={649} y={ys[0]} o={{ s: 10 }}>PFC-PLs</Txt>
          <Txt x={651} y={ys[1]} o={{ s: 10, lh: 12 }}>Striosomal<br />SPN</Txt>
          <Txt x={650} y={ys[2]} o={{ s: 10 }}>FSI</Txt>
        </React.Fragment>
      ))}
      <Txt x={772} y={218} o={{ s: 8.5, a: 'r' }}>High</Txt>
      <Txt x={772} y={242} o={{ s: 8.5, a: 'r' }}>Low</Txt>
      <Txt x={788} y={229} o={{ s: 8, r: 90, lh: 8 }}>Peak<br />density</Txt>
      <Txt x={773} y={312} o={{ s: 8.5, a: 'r' }}>Low</Txt>
      <Txt x={773} y={336} o={{ s: 8.5, a: 'r' }}>High</Txt>
      <Txt x={790} y={323} o={{ s: 8, r: 90, lh: 8 }}>Valley<br />density</Txt>
      <Txt x={728} y={500} o={{ s: 11 }}>Activity peak time (s)</Txt>

      {/* ---- E texts */}
      <Txt x={7} y={580} o={{ s: 13, b: true }}>E</Txt>
      <Txt x={21} y={634} o={{ s: 9.5, c: PINK }}>Stimulate</Txt>
      <Txt x={147} y={611} o={{ s: 9.5, c: PINK }}>Record</Txt>
      <Txt x={172} y={664} o={{ s: 10.5, r: -90 }}>Firing rate (z-score)</Txt>
      <Txt x={282} y={752} o={{ s: 10.5 }}>Time (ms)</Txt>
      <Txt x={283} y={718} o={{ s: 13 }}>*</Txt>
      <Legend x={268} y={599} gap={14.5} size={7} fs={8} items={[[BLUE, 'Control'], [ORANGE, 'Immobilization'], [RED, 'Foot-shock']]} />
      <Txt x={407} y={671} o={{ s: 10.5, r: -90 }}>Proportion of peak rise time (%)</Txt>
      <Txt x={476} y={754} o={{ s: 10.5 }}>Peak rise time (ms)</Txt>

      {/* ---- F texts */}
      <Txt x={558} y={591} o={{ s: 13, b: true }}>F</Txt>
      <Txt x={572} y={639} o={{ s: 9.5, c: PINK }}>Stimulate</Txt>
      <Txt x={605} y={722} o={{ s: 9.5, c: PINK, a: 'r' }}>Record</Txt>
      <Legend x={685} y={552} gap={14.3} size={7} fs={8}
        items={[[BLUE, <>Control (<i>n</i> = 24 / 395)</>], [ORANGE, <>Immobilization (<i>n</i> = 7 / 408)</>], [RED, <>Foot-shock (<i>n</i> = 10 / 636)</>]]} />
      <Txt x={750} y={655} o={{ s: 13 }}>*</Txt>
      <Txt x={768} y={655} o={{ s: 13 }}>*</Txt>
      <Txt x={705} y={671} o={{ s: 10.5, r: -90 }}>Proportion of PLs-responding</Txt>
      <Txt x={717} y={700} o={{ s: 10.5, r: -90 }}>FSIs (%)</Txt>
    </div>
  );
}
